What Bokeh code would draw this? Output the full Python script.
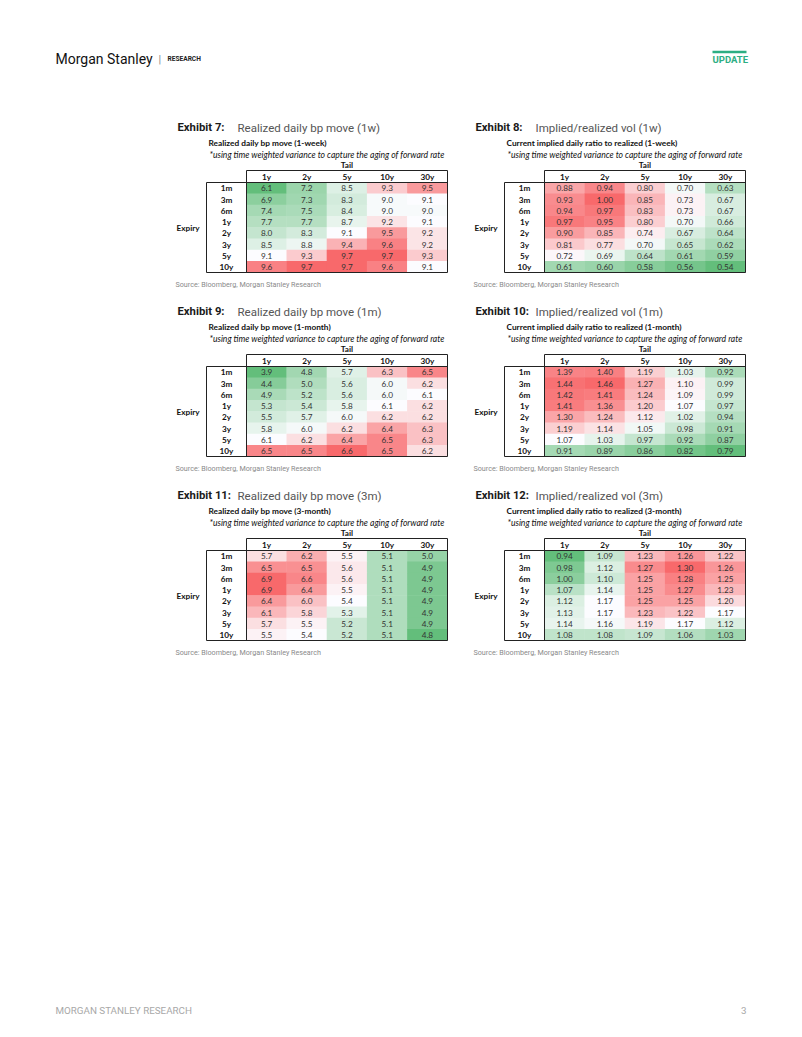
import numpy as np
from bokeh.plotting import figure
from bokeh.models import Range1d
from bokeh.core.properties import value
from bokeh.embed import file_html
from bokeh.resources import INLINE

# ---------------- data ----------------
tails = ["1y", "2y", "5y", "10y", "30y"]
expiries = ["1m", "3m", "6m", "1y", "2y", "3y", "5y", "10y"]

exhibit_labels = ["Exhibit 7:", "Exhibit 8:", "Exhibit 9:", "Exhibit 10:", "Exhibit 11:", "Exhibit 12:"]
exhibit_titles = ["Realized daily bp move (1w)", "Implied/realized vol (1w)",
                  "Realized daily bp move (1m)", "Implied/realized vol (1m)",
                  "Realized daily bp move (3m)", "Implied/realized vol (3m)"]
table_titles = ["Realized daily bp move (1-week)", "Current implied daily ratio to realized (1-week)",
                "Realized daily bp move (1-month)", "Current implied daily ratio to realized (1-month)",
                "Realized daily bp move (3-month)", "Current implied daily ratio to realized (3-month)"]
note_text = "*using time weighted variance to capture the aging of forward rate"
source_text = "Source: Bloomberg, Morgan Stanley Research"

ex7 = [[6.1, 7.2, 8.5, 9.3, 9.5],
       [6.9, 7.3, 8.3, 9.0, 9.1],
       [7.4, 7.5, 8.4, 9.0, 9.0],
       [7.7, 7.7, 8.7, 9.2, 9.1],
       [8.0, 8.3, 9.1, 9.5, 9.2],
       [8.5, 8.8, 9.4, 9.6, 9.2],
       [9.1, 9.3, 9.7, 9.7, 9.3],
       [9.6, 9.7, 9.7, 9.6, 9.1]]
ex8 = [[0.88, 0.94, 0.80, 0.70, 0.63],
       [0.93, 1.00, 0.85, 0.73, 0.67],
       [0.94, 0.97, 0.83, 0.73, 0.67],
       [0.97, 0.95, 0.80, 0.70, 0.66],
       [0.90, 0.85, 0.74, 0.67, 0.64],
       [0.81, 0.77, 0.70, 0.65, 0.62],
       [0.72, 0.69, 0.64, 0.61, 0.59],
       [0.61, 0.60, 0.58, 0.56, 0.54]]
ex9 = [[3.9, 4.8, 5.7, 6.3, 6.5],
       [4.4, 5.0, 5.6, 6.0, 6.2],
       [4.9, 5.2, 5.6, 6.0, 6.1],
       [5.3, 5.4, 5.8, 6.1, 6.2],
       [5.5, 5.7, 6.0, 6.2, 6.2],
       [5.8, 6.0, 6.2, 6.4, 6.3],
       [6.1, 6.2, 6.4, 6.5, 6.3],
       [6.5, 6.5, 6.6, 6.5, 6.2]]
ex10 = [[1.39, 1.40, 1.19, 1.03, 0.92],
        [1.44, 1.46, 1.27, 1.10, 0.99],
        [1.42, 1.41, 1.24, 1.09, 0.99],
        [1.41, 1.36, 1.20, 1.07, 0.97],
        [1.30, 1.24, 1.12, 1.02, 0.94],
        [1.19, 1.14, 1.05, 0.98, 0.91],
        [1.07, 1.03, 0.97, 0.92, 0.87],
        [0.91, 0.89, 0.86, 0.82, 0.79]]
ex11 = [[5.7, 6.2, 5.5, 5.1, 5.0],
        [6.5, 6.5, 5.6, 5.1, 4.9],
        [6.9, 6.6, 5.6, 5.1, 4.9],
        [6.9, 6.4, 5.5, 5.1, 4.9],
        [6.4, 6.0, 5.4, 5.1, 4.9],
        [6.1, 5.8, 5.3, 5.1, 4.9],
        [5.7, 5.5, 5.2, 5.1, 4.9],
        [5.5, 5.4, 5.2, 5.1, 4.8]]
ex12 = [[0.94, 1.09, 1.23, 1.26, 1.22],
        [0.98, 1.12, 1.27, 1.30, 1.26],
        [1.00, 1.10, 1.25, 1.28, 1.25],
        [1.07, 1.14, 1.25, 1.27, 1.23],
        [1.12, 1.17, 1.25, 1.25, 1.20],
        [1.13, 1.17, 1.23, 1.22, 1.17],
        [1.14, 1.16, 1.19, 1.17, 1.12],
        [1.08, 1.08, 1.09, 1.06, 1.03]]
tables = [ex7, ex8, ex9, ex10, ex11, ex12]
decimals = [1, 2, 1, 2, 1, 2]

# ---------------- styling / layout ----------------
GREEN = np.array([99, 190, 123])
WHITE = np.array([252, 252, 255])
RED = np.array([248, 105, 107])

def scale_colors(vals):
    v = np.asarray(vals, dtype=float).ravel()
    lo, mid, hi = v.min(), np.percentile(v, 50), v.max()
    out = []
    for x in v:
        if x <= mid:
            t = 0.0 if mid == lo else (x - lo) / (mid - lo)
            c = GREEN + t * (WHITE - GREEN)
        else:
            t = (x - mid) / (hi - mid)
            c = WHITE + t * (RED - WHITE)
        c = np.clip(np.round(c), 0, 255).astype(int)
        out.append("#%02x%02x%02x" % tuple(c))
    return out

W, H = 786, 1021
p = figure(width=W, height=H, x_range=Range1d(0, W), y_range=Range1d(H, 0),
           output_backend="svg", toolbar_location=None, min_border=0,
           x_axis_type=None, y_axis_type=None, outline_line_color=None,
           background_fill_color="white", border_fill_color="white")
p.grid.visible = False

SANS = value("Roboto")
TAB = value("Lato")

# page header
p.text(x=[55], y=[58.5], text=["Morgan Stanley"], text_font=SANS, text_font_size="14px",
       text_color="#111111", text_baseline="middle")
p.text(x=[158], y=[58.5], text=["|"], text_font=SANS, text_font_size="11px",
       text_color="#888888", text_baseline="middle")
p.text(x=[167], y=[58.5], text=["RESEARCH"], text_font=SANS, text_font_size="6.6px",
       text_font_style="bold", text_color="#222222", text_baseline="middle")
p.segment(x0=[712], y0=[51.5], x1=[746], y1=[51.5], line_color="#2dae83", line_width=2.5)
p.text(x=[712], y=[58.5], text=["UPDATE"], text_font=SANS, text_font_size="9.5px",
       text_font_style="bold", text_color="#2dae83", text_baseline="middle")

# footer
p.text(x=[55], y=[1009.5], text=["MORGAN STANLEY RESEARCH"], text_font=SANS,
       text_font_size="9.8px", text_color="#a8a8a8", text_baseline="middle")
p.text(x=[746], y=[1009.5], text=["3"], text_font=SANS, text_font_size="9.8px",
       text_color="#a8a8a8", text_baseline="middle", text_align="right")

col_dx = [0, 298]
row_dy = [0, 184, 368]
CW = 40.2
RH = 11.25

for k, vals in enumerate(tables):
    dx = col_dx[k % 2]
    dy = row_dy[k // 2]
    arr = np.asarray(vals, dtype=float)
    nr, nc = arr.shape
    gx0 = 246 + dx          # left of data columns
    lx0 = 206 + dx          # left of row-label column
    hy0 = 170 + dy          # top of header row
    gy0 = 182 + dy          # top of data rows
    gx1 = gx0 + nc * CW
    gy1 = gy0 + nr * RH

    # titles
    p.text(x=[177 + dx], y=[127 + dy], text=[exhibit_labels[k]], text_font=SANS,
           text_font_size="11.3px", text_font_style="bold", text_color="#1a1a1a",
           text_baseline="middle")
    p.text(x=[237 + dx], y=[127 + dy], text=[exhibit_titles[k]], text_font=SANS,
           text_font_size="11.5px", text_color="#555555", text_baseline="middle")
    p.text(x=[208 + dx], y=[142 + dy], text=[table_titles[k]], text_font=TAB,
           text_font_size="8.3px", text_font_style="bold", text_color="#111111",
           text_baseline="middle")
    p.text(x=[209 + dx], y=[154 + dy], text=[note_text], text_font=TAB,
           text_font_size="8.6px", text_font_style="italic", text_color="#111111",
           text_baseline="middle")
    p.text(x=[(gx0 + gx1) / 2], y=[164.5 + dy], text=["Tail"], text_font=TAB,
           text_font_size="8.2px", text_font_style="bold", text_color="#111111",
           text_align="center", text_baseline="middle")
    p.text(x=[176 + dx], y=[(gy0 + gy1) / 2], text=["Expiry"], text_font=TAB,
           text_font_size="8.2px", text_font_style="bold", text_color="#111111",
           text_baseline="middle")

    # cells
    ii, jj = np.meshgrid(np.arange(nr), np.arange(nc), indexing="ij")
    xs = gx0 + (jj.ravel() + 0.5) * CW
    ys = gy0 + (ii.ravel() + 0.5) * RH
    cols = scale_colors(arr)
    p.rect(x=xs, y=ys, width=CW + 0.4, height=RH + 0.4, fill_color=cols, line_color=None)
    fmt = "{:.%df}" % decimals[k]
    p.text(x=xs, y=ys + 0.3, text=[fmt.format(v) for v in arr.ravel()], text_font=TAB,
           text_font_size="8.2px", text_color="#333333", text_align="center",
           text_baseline="middle")

    # header and row labels
    p.text(x=gx0 + (np.arange(nc) + 0.5) * CW, y=[hy0 + 6.3] * nc, text=tails, text_font=TAB,
           text_font_size="8.2px", text_font_style="bold", text_color="#111111",
           text_align="center", text_baseline="middle")
    p.text(x=[lx0 + 20] * nr, y=gy0 + (np.arange(nr) + 0.5) * RH + 0.3, text=expiries,
           text_font=TAB, text_font_size="8.2px", text_font_style="bold",
           text_color="#111111", text_align="center", text_baseline="middle")

    # borders
    p.segment(x0=[gx0, gx0, lx0, lx0, gx0, gx1],
              y0=[hy0, gy0, gy1, gy0, hy0, hy0],
              x1=[gx1, gx1, gx1, lx0, gx0, gx1],
              y1=[hy0, gy0, gy1, gy1, gy1, gy1],
              line_color="#222222", line_width=1)
    p.segment(x0=[lx0], y0=[gy0], x1=[gx0], y1=[gy0], line_color="#222222", line_width=1)

    p.text(x=[175 + dx], y=[284 + dy], text=[source_text], text_font=SANS,
           text_font_size="7.2px", text_color="#8a8a8a", text_baseline="middle")

open("out.html", "w").write(file_html(p, INLINE))
